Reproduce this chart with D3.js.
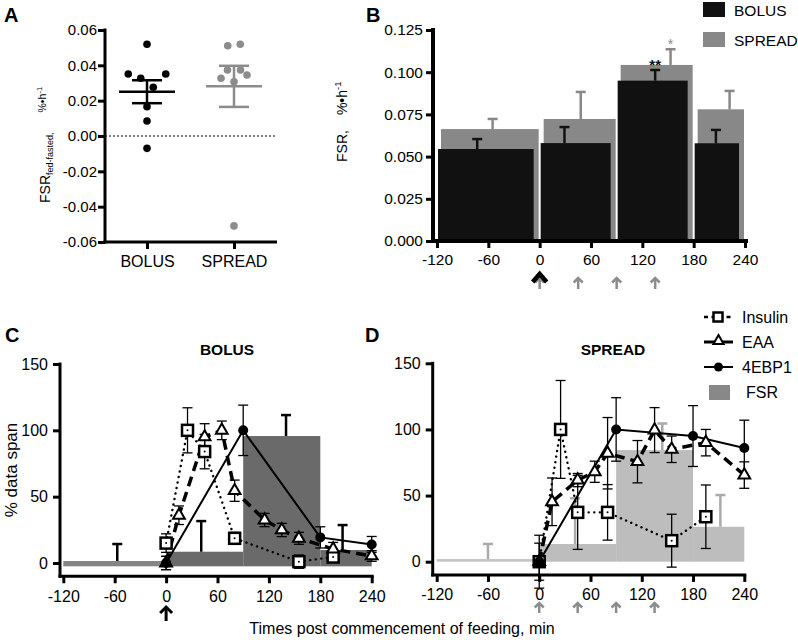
<!DOCTYPE html>
<html><head><meta charset="utf-8">
<script src="https://cdn.jsdelivr.net/npm/d3@7"></script>
<style>body{margin:0;background:#fff}</style>
</head><body><svg id="c" width="798" height="640"></svg>
<script>
// ---------------- DATA ----------------
// Panel A
const groupsA = ["BOLUS", "SPREAD"];
const bolusA = [0.0519, 0.0351, 0.0327, 0.0276, 0.0351, 0.0166, 0.0085, -0.0070];
const spreadA = [0.0511, 0.0519, 0.0327, 0.0374, 0.0307, 0.0374, 0.0345, -0.0509];
const ticksA = [0.06, 0.04, 0.02, 0, -0.02, -0.04, -0.06];

// Panel B (intervals in min)
const intervals = [[-120, 0], [0, 90], [90, 180], [180, 240]];
const bolusB = [0.0545, 0.0580, 0.0950, 0.0579];
const bolusBErr = [0.0059, 0.0095, 0.0063, 0.0079];
const bolusBErrAt = [-73, 29, 135, 206];
const spreadB = [0.0663, 0.0723, 0.1043, 0.0780];
const spreadBErr = [0.0060, 0.0160, 0.0093, 0.0109];
const spreadBErrAt = [-55, 48, 153, 222];
const ticksBy = [0, 0.025, 0.05, 0.075, 0.1, 0.125];
const ticksX = [-120, -60, 0, 60, 120, 180, 240];
const sigB = [{ series: "bolus", i: 2, text: "**" }, { series: "spread", i: 2, text: "*" }];
const bolusFeeds = [0];
const spreadFeeds = [0, 45, 90, 135];

// Panels C & D (% data span)
const ticksCy = [0, 50, 100, 150];
const insulinT = [0, 25, 45, 80, 155, 195];
const eaaT = [0, 15, 45, 65, 80, 115, 135, 155, 195, 240];
const ebpT = [0, 90, 180, 240];

const bolusInsulin = [15, 100, 84, 18.6, 1, 4.5];
const bolusInsulinErr = [7, 17, 13, 4.5, 5, 3];
const bolusEAA = [0, 36, 95, 100, 54.5, 32.4, 24.9, 18.6, 10.5, 5.3];
const bolusEAAErr = [5, 7, 10, 7, 8, 5, 5, 4.5, 5, 4];
const bolusEBP = [0, 100, 19.3, 14];
const bolusEBPErr = [5, 19, 8, 6];
const bolusFSR = [1.5, 8.5, 95.7, 9.8];
const bolusFSRErrTop = [14.3, 31.6, 111.5, 28.6];
const bolusFSRErrAt = [-57, 41, 140, 206];

const spreadInsulin = [0, 100, 37.3, 37.3, 15.9, 34];
const spreadInsulinErr = [20, 37, 28, 21, 20, 24];
const spreadEAA = [0, 45.3, 61.7, 68, 82, 75.6, 99.5, 85, 90, 65.5];
const spreadEAAErr = [14, 18, 5, 8, 27, 16, 17, 10, 10, 10];
const spreadEBP = [0, 100, 95, 86];
const spreadEBPErr = [4, 24, 23, 21];
const spreadFSR = [2, 13.4, 84.4, 26.4];
const spreadFSRErrTop = [13.4, 48, 104.5, 50.4];
const spreadFSRErrAt = [-60, 42, 144, 212];

const legendCD = ["Insulin", "EAA", "4EBP1", "FSR"];

// ---------------- DRAW ----------------
const FONT = "'Liberation Sans', Arial, Helvetica, sans-serif";
const loc = d3.formatLocale({ decimal: ".", thousands: ",", grouping: [3], currency: ["", ""], minus: "-" });
const f2 = loc.format(".2f"), f3 = loc.format(".3f"), f0 = loc.format("d");
const svg = d3.select("#c").style("font-family", FONT);

function styleAxis(g, size, w) {
  g.select(".domain").remove();
  g.selectAll(".tick line").attr("stroke", "#000").attr("stroke-width", w);
  g.selectAll(".tick text").attr("fill", "#000").style("font-size", size + "px").style("font-family", FONT);
}
function hline(g, x1, x2, y, w, c) {
  return g.append("line").attr("x1", x1).attr("x2", x2).attr("y1", y).attr("y2", y).attr("stroke", c || "#000").attr("stroke-width", w);
}
function vline(g, x, y1, y2, w, c) {
  return g.append("line").attr("x1", x).attr("x2", x).attr("y1", y1).attr("y2", y2).attr("stroke", c || "#000").attr("stroke-width", w);
}
function label(txt, x, y) {
  svg.append("text").attr("x", x).attr("y", y).text(txt).style("font-size", "20px").style("font-weight", "bold");
}
function arrow(g, x, yTop, yBot, color, w, hw) {
  vline(g, x, yTop + 1, yBot, w, color);
  g.append("path").attr("d", `M${x - hw},${yTop + hw}L${x},${yTop}L${x + hw},${yTop + hw}`)
    .attr("fill", "none").attr("stroke", color).attr("stroke-width", w);
}

// ---- Panel A ----
(function () {
  const g = svg.append("g");
  const yA = d3.scaleLinear().domain([-0.06, 0.06]).range([242, 30]);
  const xA = d3.scalePoint().domain(groupsA).range([147, 234]);
  label("A", 4, 22);
  g.append("g").attr("transform", "translate(105,0)")
    .call(d3.axisLeft(yA).tickValues(ticksA).tickFormat(f2).tickSize(7).tickPadding(1)).call(styleAxis, 15, 3);
  g.append("g").attr("transform", "translate(0,242)")
    .call(d3.axisBottom(xA).tickSize(7).tickPadding(7)).call(styleAxis, 16, 3);
  vline(g, 105, yA(0.06) - 1.5, yA(-0.06) + 1.5, 3);
  hline(g, 103.5, 277, 242, 3);
  hline(g, 105, 277, yA(0), 1).attr("stroke-dasharray", "2,2");

  function swarm(vals) {
    const idx = vals.map((v, i) => i).sort((a, b) => vals[b] - vals[a]);
    const rows = [];
    idx.forEach(i => {
      const r = rows[rows.length - 1];
      if (r && vals[r[0]] - vals[i] < 0.0078) r.push(i); else rows.push([i]);
    });
    const off = vals.map(() => 0);
    rows.forEach(r => {
      r.sort((a, b) => a - b);
      const sp = r.length > 4 ? 6.5 : 12.5;
      r.forEach((i, k) => off[i] = (k - (r.length - 1) / 2) * sp);
    });
    return off;
  }
  [[bolusA, "#000"], [spreadA, "#8c8c8c"]].forEach(([vals, col], gi) => {
    const cx = xA(groupsA[gi]);
    const off = swarm(vals);
    g.selectAll(null).data(vals).join("circle")
      .attr("cx", (d, i) => cx + off[i]).attr("cy", d => yA(d)).attr("r", 3.8).attr("fill", col);
    const m = d3.mean(vals), sem = d3.deviation(vals) / Math.sqrt(vals.length);
    hline(g, cx - 28, cx + 28, yA(m), 2.5, col);
    vline(g, cx, yA(m + sem), yA(m - sem), 2.5, col);
    hline(g, cx - 15, cx + 15, yA(m + sem), 2.5, col);
    hline(g, cx - 15, cx + 15, yA(m - sem), 2.5, col);
  });
  const t = g.append("text").attr("transform", "translate(50,203) rotate(-90)").style("font-size", "14px");
  t.append("tspan").text("FSR");
  t.append("tspan").attr("dy", 3).style("font-size", "9px").text("fed-fasted,");
  t.append("tspan").attr("dy", -7).attr("dx", 20).style("font-size", "10.5px").text("%•h");
  t.append("tspan").attr("dy", -4).style("font-size", "7.5px").text("-1");
})();

// ---- Panel B ----
(function () {
  const g = svg.append("g");
  const yB = d3.scaleLinear().domain([0, 0.125]).range([241, 30]);
  const xB = d3.scaleLinear().domain([-120, 240]).range([437, 745]);
  label("B", 366, 22);
  g.selectAll(null).data(intervals).join("rect")
    .attr("x", d => xB(d[0]) + 4).attr("width", d => xB(d[1]) - xB(d[0]) - 5)
    .attr("y", (d, i) => yB(spreadB[i])).attr("height", (d, i) => yB(0) - yB(spreadB[i])).attr("fill", "#888");
  spreadB.forEach((v, i) => {
    const x = xB(spreadBErrAt[i]);
    vline(g, x, yB(v), yB(v + spreadBErr[i]), 2.5, "#888");
    hline(g, x - 5, x + 5, yB(v + spreadBErr[i]), 2.5, "#888");
  });
  g.selectAll(null).data(intervals).join("rect")
    .attr("x", d => xB(d[0]) + 1).attr("width", d => xB(d[1]) - xB(d[0]) - 7)
    .attr("y", (d, i) => yB(bolusB[i])).attr("height", (d, i) => yB(0) - yB(bolusB[i])).attr("fill", "#111");
  bolusB.forEach((v, i) => {
    const x = xB(bolusBErrAt[i]);
    vline(g, x, yB(v), yB(v + bolusBErr[i]), 2.5, "#111");
    hline(g, x - 5, x + 5, yB(v + bolusBErr[i]), 2.5, "#111");
  });
  sigB.forEach(s => {
    const isB = s.series === "bolus";
    const v = isB ? bolusB[s.i] + bolusBErr[s.i] : spreadB[s.i] + spreadBErr[s.i];
    const x = xB(isB ? bolusBErrAt[s.i] : spreadBErrAt[s.i]);
    g.append("text").attr("x", x).attr("y", yB(v) - 0.5).attr("text-anchor", "middle")
      .style("font-size", isB ? "15px" : "14px").style("font-weight", isB ? "bold" : "normal")
      .attr("fill", isB ? "#111" : "#888").text(s.text);
  });
  g.append("g").attr("transform", "translate(433,0)")
    .call(d3.axisLeft(yB).tickValues(ticksBy).tickFormat(f3).tickSize(7).tickPadding(3)).call(styleAxis, 15.5, 3);
  g.append("g").attr("transform", "translate(0,241)")
    .call(d3.axisBottom(xB).tickValues(ticksX).tickFormat(f0).tickSize(7).tickPadding(6)).call(styleAxis, 15.5, 3);
  vline(g, 433, 28, 243, 4);
  hline(g, 431, 748, 241, 4);
  spreadFeeds.forEach(t => arrow(g, xB(t), 278, 289, "#8c8c8c", 2.5, 4.5));
  bolusFeeds.forEach(t => {
    const x = xB(t);
    g.append("path").attr("d", `M${x - 7},${282}L${x},${274}L${x + 7},${282}`)
      .attr("fill", "none").attr("stroke", "#000").attr("stroke-width", 4.5);
  });
  [["BOLUS", "#111"], ["SPREAD", "#888"]].forEach(([n, c], i) => {
    g.append("rect").attr("x", 703).attr("y", 2 + i * 30).attr("width", 22).attr("height", 15).attr("fill", c);
    g.append("text").attr("x", 734).attr("y", 16 + i * 30).style("font-size", "15.5px").text(n);
  });
  const t = g.append("text").attr("transform", "translate(347,162) rotate(-90)").style("font-size", "14px");
  t.append("tspan").text("FSR,");
  t.append("tspan").attr("dx", 15).text("%•h");
  t.append("tspan").attr("dy", -6).style("font-size", "9.5px").text("-1");
})();

// ---- Panels C / D ----
function panelCD(cfg) {
  const g = svg.append("g");
  const x = d3.scaleLinear().domain([-120, 240]).range(cfg.xr);
  const y = d3.scaleLinear().domain([0, 150]).range(cfg.yr);
  const ax = cfg.axisX, ay = y(-10);
  label(cfg.letter, cfg.letterX, 342);
  g.append("text").attr("x", cfg.titleX).attr("y", 355).attr("text-anchor", "middle")
    .style("font-size", "15.5px").style("font-weight", "bold").text(cfg.title);
  g.selectAll(null).data(intervals).join("rect")
    .attr("x", d => x(d[0])).attr("width", d => x(d[1]) - x(d[0]))
    .attr("y", (d, i) => y(cfg.fsr[i])).attr("height", (d, i) => y(cfg.base) - y(cfg.fsr[i]))
    .attr("fill", (d, i) => d[1] <= 0 ? cfg.fastColor : cfg.barColor);
  cfg.fsr.forEach((v, i) => {
    const xx = x(cfg.fsrErrAt[i]);
    vline(g, xx, y(v), y(cfg.fsrErrTop[i]), 2.5, cfg.fsrErrColor);
    hline(g, xx - 5, xx + 5, y(cfg.fsrErrTop[i]), 2.5, cfg.fsrErrColor);
  });
  const series = [
    { t: insulinT, v: cfg.ins, e: cfg.insE },
    { t: eaaT, v: cfg.eaa, e: cfg.eaaE },
    { t: ebpT, v: cfg.ebp, e: cfg.ebpE }
  ];
  series.forEach(s => s.v.forEach((v, i) => {
    const xx = x(s.t[i]);
    vline(g, xx, y(v + s.e[i]), y(v - s.e[i]), 1.3);
    hline(g, xx - 5, xx + 5, y(v + s.e[i]), 1.3);
    hline(g, xx - 5, xx + 5, y(v - s.e[i]), 1.3);
  }));
  const line = (t) => d3.line().x((d, i) => x(t[i])).y(d => y(d));
  g.append("path").attr("d", line(insulinT)(cfg.ins)).attr("fill", "none").attr("stroke", "#000")
    .attr("stroke-width", 2.4).attr("stroke-linecap", "round").attr("stroke-dasharray", "0.1,5.5");
  g.append("path").attr("d", line(eaaT)(cfg.eaa)).attr("fill", "none").attr("stroke", "#000")
    .attr("stroke-width", 3.5).attr("stroke-dasharray", "10,6");
  g.append("path").attr("d", line(ebpT)(cfg.ebp)).attr("fill", "none").attr("stroke", "#000")
    .attr("stroke-width", 2);
  cfg.ins.forEach((v, i) => {
    g.append("rect").attr("x", x(insulinT[i]) - 5.5).attr("y", y(v) - 5.5).attr("width", 11).attr("height", 11)
      .attr("fill", "#fff").attr("stroke", "#000").attr("stroke-width", 2.5);
    g.append("circle").attr("cx", x(insulinT[i])).attr("cy", y(v)).attr("r", 1).attr("fill", "#000");
  });
  const tri = d3.symbol().type(d3.symbolTriangle).size(60);
  cfg.eaa.forEach((v, i) => {
    g.append("path").attr("d", tri()).attr("transform", `translate(${x(eaaT[i])},${y(v)})`)
      .attr("fill", "#fff").attr("stroke", "#000").attr("stroke-width", 2);
  });
  cfg.ebp.forEach((v, i) => {
    g.append("circle").attr("cx", x(ebpT[i])).attr("cy", y(v)).attr("r", 5).attr("fill", "#000");
  });
  g.append("g").attr("transform", `translate(${ax},0)`)
    .call(d3.axisLeft(y).tickValues(ticksCy).tickFormat(f0).tickSize(7).tickPadding(5)).call(styleAxis, 16, 3);
  g.append("g").attr("transform", `translate(0,${ay})`)
    .call(d3.axisBottom(x).tickValues(ticksX).tickFormat(f0).tickSize(7).tickPadding(7)).call(styleAxis, 16, 3);
  vline(g, ax, y(150) - 1.5, ay + 1.5, 3);
  hline(g, ax - 1.5, x(240) + 2, ay, 3);
  cfg.feeds.forEach(t => arrow(g, x(t), cfg.arrowY[0], cfg.arrowY[1], cfg.arrowColor, cfg.arrowW, cfg.arrowHW));
  return g;
}

panelCD({
  letter: "C", letterX: 5, title: "BOLUS", titleX: 227,
  xr: [63.3, 371.7], yr: [563, 364], axisX: 60,
  fsr: bolusFSR, fsrErrTop: bolusFSRErrTop, fsrErrAt: bolusFSRErrAt, base: -2.5,
  barColor: "#6a6a6a", fastColor: "#858585", fsrErrColor: "#000",
  ins: bolusInsulin, insE: bolusInsulinErr, eaa: bolusEAA, eaaE: bolusEAAErr, ebp: bolusEBP, ebpE: bolusEBPErr,
  feeds: bolusFeeds, arrowY: [607, 621], arrowColor: "#000", arrowW: 3, arrowHW: 6
});
panelCD({
  letter: "D", letterX: 365, title: "SPREAD", titleX: 613,
  xr: [436.7, 744.3], yr: [561.7, 363.3], axisX: 432.7,
  fsr: spreadFSR, fsrErrTop: spreadFSRErrTop, fsrErrAt: spreadFSRErrAt, base: 0,
  barColor: "#bdbdbd", fastColor: "#c4c4c4", fsrErrColor: "#aaa",
  ins: spreadInsulin, insE: spreadInsulinErr, eaa: spreadEAA, eaaE: spreadEAAErr, ebp: spreadEBP, ebpE: spreadEBPErr,
  feeds: spreadFeeds, arrowY: [603, 613], arrowColor: "#8c8c8c", arrowW: 2.5, arrowHW: 4.5
});

svg.append("text").attr("x", 402).attr("y", 634).attr("text-anchor", "middle").style("font-size", "16px")
  .text("Times post commencement of feeding, min");
svg.append("text").attr("transform", "translate(17,470) rotate(-90)").attr("text-anchor", "middle")
  .style("font-size", "17px").text("% data span");

(function () {
  const g = svg.append("g");
  const ys = [317, 342, 367, 392];
  legendCD.forEach((n, i) => {
    const yy = ys[i];
    if (i === 0) {
      hline(g, 704, 733, yy, 2.5).attr("stroke-dasharray", "4,3.5");
      g.append("rect").attr("x", 713.5).attr("y", yy - 4.5).attr("width", 9).attr("height", 9)
        .attr("fill", "#fff").attr("stroke", "#000").attr("stroke-width", 2.5);
    } else if (i === 1) {
      hline(g, 704, 733, yy, 3);
      g.append("path").attr("d", d3.symbol().type(d3.symbolTriangle).size(45)()).attr("transform", `translate(718.5,${yy - 1})`)
        .attr("fill", "#fff").attr("stroke", "#000").attr("stroke-width", 2);
    } else if (i === 2) {
      hline(g, 704, 733, yy, 2);
      g.append("circle").attr("cx", 718.5).attr("cy", yy).attr("r", 4.5).attr("fill", "#000");
    } else {
      g.append("rect").attr("x", 709).attr("y", yy - 7).attr("width", 21).attr("height", 15).attr("fill", "#888");
    }
    g.append("text").attr("x", i === 3 ? 746 : 742).attr("y", yy + 6).style("font-size", "16px").text(n);
  });
})();
</script>
</body></html>
